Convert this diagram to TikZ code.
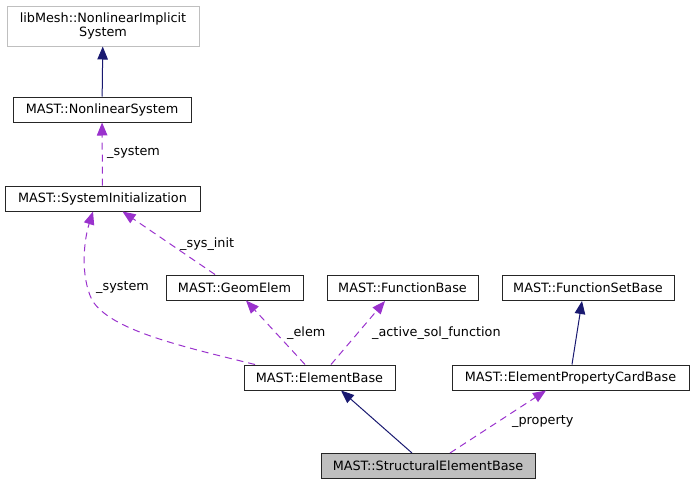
\documentclass[tikz,border=0pt]{standalone}
\usepackage{fontspec}
\setmainfont{DejaVu Sans}
\usetikzlibrary{arrows.meta}

\definecolor{navyedge}{HTML}{191970}
\definecolor{orchidedge}{HTML}{9A32CD}
\definecolor{boxgray}{HTML}{BFBFBF}

\begin{document}
\begin{tikzpicture}[
        x=1pt, y=-1pt,
        every node/.style={font=\fontsize{12.8}{14.5}\selectfont},
        box/.style={rectangle, draw=black!85, line width=1pt, minimum height=25pt, inner sep=0pt, align=center},
        extbox/.style={box, draw=boxgray, minimum height=40pt},
        focus/.style={box, fill=boxgray},
        inherit/.style={-{Triangle[length=13pt, width=10.5pt]}, navyedge, line width=1pt},
        usage/.style={-{Triangle[length=13pt, width=10.5pt]}, orchidedge, line width=1pt, dash pattern=on 7pt off 5pt},
        lbl/.style={anchor=west, inner sep=0pt}
    ]
        \useasboundingbox (0,0) rectangle (694,485);
        % class boxes
        \node[extbox, minimum width=192pt] (libmesh) at (103,26) {libMesh::NonlinearImplicit\\System};
        \node[box, minimum width=178pt] (nonlinear) at (102,109.5) {MAST::NonlinearSystem};
        \node[box, minimum width=195pt] (sysinit) at (102.5,198.5) {MAST::SystemInitialization};
        \node[box, minimum width=137pt] (geomelem) at (234.5,287.5) {MAST::GeomElem};
        \node[box, minimum width=151pt] (funcbase) at (402.5,288) {MAST::FunctionBase};
        \node[box, minimum width=172pt] (funcset) at (588,288) {MAST::FunctionSetBase};
        \node[box, minimum width=151pt] (elembase) at (319.5,377.5) {MAST::ElementBase};
        \node[box, minimum width=237pt] (cardbase) at (570.5,377.5) {MAST::ElementPropertyCardBase};
        \node[focus, minimum width=214pt] (structural) at (428,466) {MAST::StructuralElementBase};
        % inheritance
        \draw[inherit] (nonlinear) -- (libmesh);
        \draw[inherit] ([xshift=1.5pt]cardbase.north) -- ([xshift=-6pt]funcset.south);
        \draw[inherit] ([xshift=-16pt]structural.north) -- ([xshift=21.5pt]elembase.south);
        % usage
        \draw[usage] (sysinit) -- (nonlinear);
        \draw[usage] ([xshift=-64.5pt]elembase.north) .. controls (180,346) and (110,330) .. (92,300)
            .. controls (80,275) and (84,240) .. ([xshift=-9.5pt]sysinit.south);
        \draw[usage] ([xshift=-19.5pt]geomelem.north) -- ([xshift=20pt]sysinit.south);
        \draw[usage] ([xshift=-14.5pt]elembase.north) -- ([xshift=11.5pt]geomelem.south);
        \draw[usage] ([xshift=11.5pt]elembase.north) -- ([xshift=-17.5pt]funcbase.south);
        \draw[usage] ([xshift=22pt]structural.north) -- ([xshift=-24.5pt]cardbase.south);
        % labels
        \node[lbl] (lsystem) at (107,153) {\_system};
        \node[lbl] (lsystemb) at (96,288) {\_system};
        \node[lbl] (lsysinit) at (180,244) {\_sys\_init};
        \node[lbl] (lelem) at (287,333) {\_elem};
        \node[lbl] (lactive) at (372,333) {\_active\_sol\_function};
        \node[lbl] (lproperty) at (512,422) {\_property};
    \end{tikzpicture}
\end{document}
